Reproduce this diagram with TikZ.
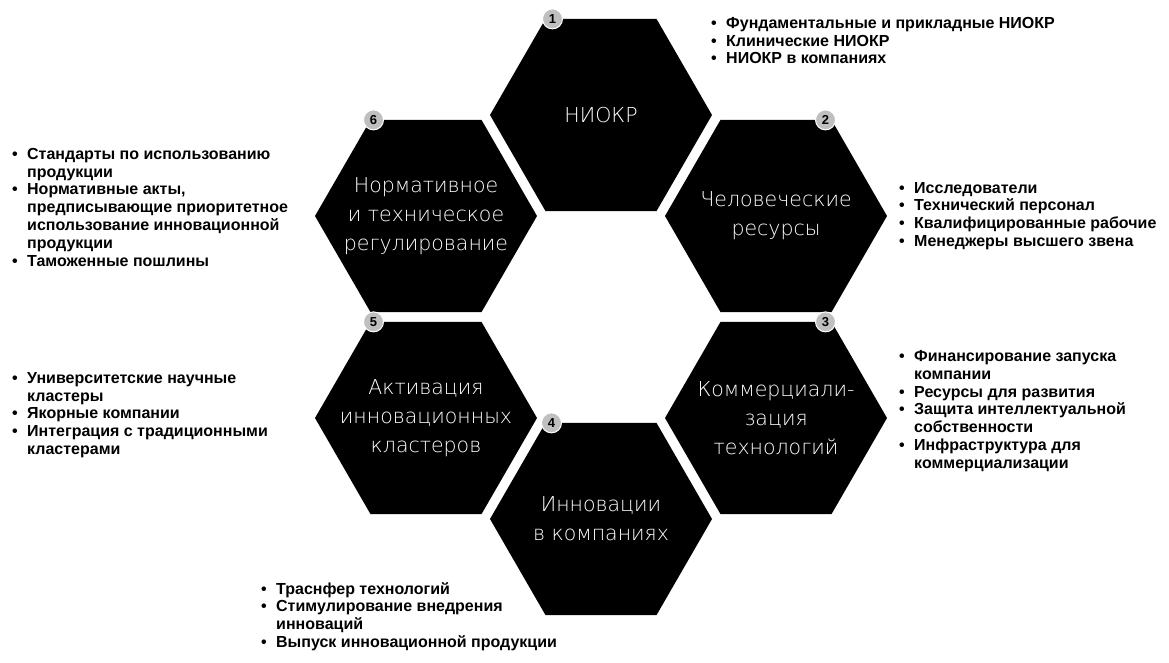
\documentclass[tikz,border=0pt]{standalone}
\usepackage{fontspec}
\setmainfont{Liberation Sans}
\newfontfamily\hexfont{DejaVu Sans ExtraLight}
\usetikzlibrary{shapes.geometric,positioning}
\newcommand\bul{\makebox[15pt][l]{\textbullet}}
\newcommand\cnt{\hspace*{15pt}}

\begin{document}
\begin{tikzpicture}[x=1pt,y=-1pt,
  hexa/.style={regular polygon, regular polygon sides=6, minimum size=222pt,
    inner sep=0pt, outer sep=0pt, fill=black},
  hextext/.style={text=white, align=center, font=\hexfont\fontsize{20.5}{29}\selectfont},
  badge/.style={circle, minimum size=20pt, inner sep=0pt, fill=gray!50, draw=white,
    line width=1pt, font=\bfseries\fontsize{13}{13}\selectfont},
  items/.style={inner sep=0pt, align=left, font=\bfseries\fontsize{16}{17.8}\selectfont}]
  \useasboundingbox (0,0) rectangle (1169,663);
  \node[hexa] (h1) at (601,115) {};
  \node[hexa] (h2) at (776,216) {};
  \node[hexa] (h3) at (776,418) {};
  \node[hexa] (h4) at (601,519) {};
  \node[hexa] (h5) at (426,418) {};
  \node[hexa] (h6) at (426,216) {};
  \node[hextext] (t1) at (h1) {НИОКР};
  \node[hextext] (t2) at (h2) {Человеческие\\ресурсы};
  \node[hextext] (t3) at (h3) {Коммерциали-\\зация\\технологий};
  \node[hextext] (t4) at (h4) {Инновации\\в компаниях};
  \node[hextext] (t5) at (h5) {Активация\\инновационных\\кластеров};
  \node[hextext] (t6) at (h6) {Нормативное\\и техническое\\регулирование};
  \node[badge, xshift=7pt] (b1) at (h1.120) {1};
  \node[badge, xshift=-6pt] (b2) at (h2.60) {2};
  \node[badge, xshift=-6pt] (b3) at (h3.60) {3};
  \node[badge, xshift=6pt] (b4) at (h4.120) {4};
  \node[badge, xshift=3pt] (b5) at (h5.120) {5};
  \node[badge, xshift=3pt] (b6) at (h6.120) {6};
  \node[items, anchor=north west] (l1) at (711,17) {\bul Фундаментальные и прикладные НИОКР\\
    \bul Клинические НИОКР\\ \bul НИОКР в компаниях};
  \node[items, right=12pt of h2] (l2) {\bul Исследователи\\ \bul Технический персонал\\
    \bul Квалифицированные рабочие\\ \bul Менеджеры высшего звена};
  \node[items, right=12pt of h3, yshift=7pt] (l3) {\bul Финансирование запуска\\ \cnt компании\\
    \bul Ресурсы для развития\\ \bul Защита интеллектуальной\\ \cnt собственности\\
    \bul Инфраструктура для\\ \cnt коммерциализации};
  \node[items, anchor=north west] (l4) at (261,582) {\bul Траснфер технологий\\
    \bul Стимулирование внедрения\\ \cnt инноваций\\ \bul Выпуск инновационной продукции};
  \node[items, anchor=north west] (l5) at (12,372) {\bul Университетские научные\\ \cnt кластеры\\
    \bul Якорные компании\\ \bul Интеграция с традиционными\\ \cnt кластерами};
  \node[items, anchor=north west] (l6) at (12,148) {\bul Стандарты по использованию\\ \cnt продукции\\
    \bul Нормативные акты,\\ \cnt предписывающие приоритетное\\ \cnt использование инновационной\\
    \cnt продукции\\ \bul Таможенные пошлины};
\end{tikzpicture}
\end{document}
